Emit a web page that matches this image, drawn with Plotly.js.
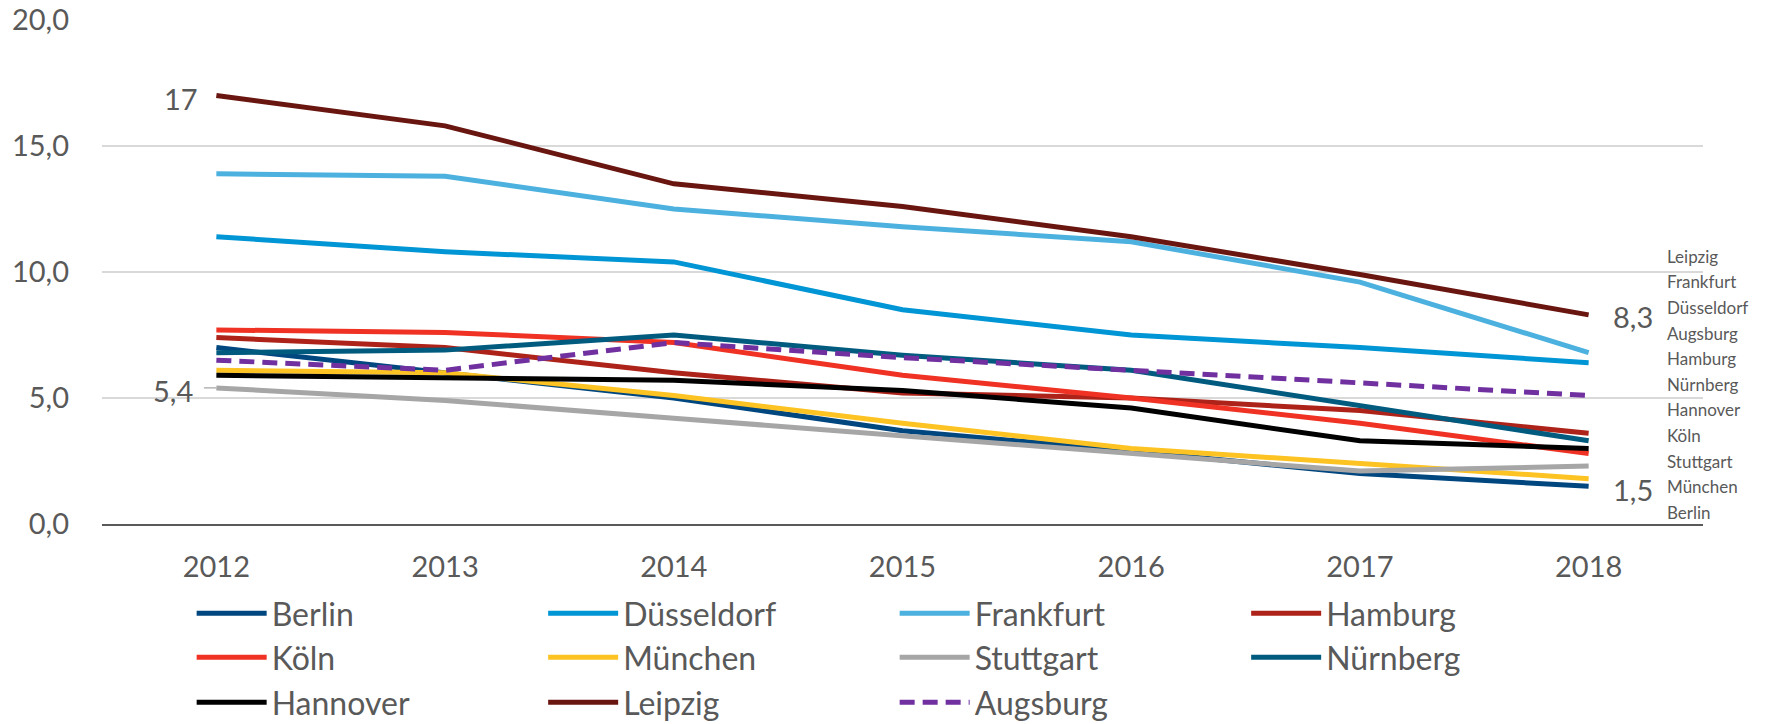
<!DOCTYPE html>
<html><head><meta charset="utf-8">
<script src="https://cdn.plot.ly/plotly-3.0.1.min.js"></script>
<style>html,body{margin:0;padding:0;background:#fff}</style>
</head><body><div id="chart" style="width:1775px;height:724px"></div>
<script>
const years = ['2012','2013','2014','2015','2016','2017','2018'];
const cities = ['Berlin','Düsseldorf','Frankfurt','Hamburg','Köln','München','Stuttgart','Nürnberg','Hannover','Leipzig','Augsburg'];
const berlin     = [7.0, 6.0, 5.0, 3.7, 2.9, 2.0, 1.5];
const duesseldorf= [11.4,10.8,10.4, 8.5, 7.5, 7.0, 6.4];
const frankfurt  = [13.9,13.8,12.5,11.8,11.2, 9.6, 6.8];
const hamburg    = [7.4, 7.0, 6.0, 5.2, 5.0, 4.5, 3.6];
const koeln      = [7.7, 7.6, 7.2, 5.9, 5.0, 4.0, 2.8];
const muenchen   = [6.1, 6.0, 5.1, 4.0, 3.0, 2.4, 1.8];
const stuttgart  = [5.4, 4.9, 4.2, 3.5, 2.8, 2.1, 2.3];
const nuernberg  = [6.8, 6.9, 7.5, 6.7, 6.1, 4.7, 3.3];
const hannover   = [5.9, 5.8, 5.7, 5.3, 4.6, 3.3, 3.0];
const leipzig    = [17.0,15.8,13.5,12.6,11.4, 9.9, 8.3];
const augsburg   = [6.5, 6.1, 7.2, 6.6, 6.1, 5.6, 5.1];
const yTicks = [0, 5, 10, 15, 20];

const seriesValues = [berlin, duesseldorf, frankfurt, hamburg, koeln, muenchen, stuttgart, nuernberg, hannover, leipzig, augsburg];
const colors = ['#00467f','#0095d4','#4cb1de','#ae2319','#ef3223','#fdc323','#a6a6a6','#005b7f','#000000','#6a1610','#7030a0'];
const dashes = ['solid','solid','solid','solid','solid','solid','solid','solid','solid','solid','15px,8px'];
const legendOf = i => i < 4 ? 'legend' : (i < 8 ? 'legend2' : 'legend3');

const FONT = 'Lato, "Open Sans", sans-serif';
const TXT = '#595959';

const traces = cities.map((c, i) => ({
  type: 'scatter', mode: 'lines', name: c, x: years, y: seriesValues[i],
  line: {color: colors[i], width: 5, dash: dashes[i]},
  legend: legendOf(i), hoverinfo: 'skip'
}));

const fmt = v => Number.isInteger(v) ? String(v) : v.toFixed(1).replace('.', ',');
const first = 0, last = years.length - 1;
const annotations = [];
// data labels (category axis: positions given by category index)
annotations.push({x: first, y: leipzig[first], text: fmt(leipzig[first]), showarrow: false, xanchor: 'right', xshift: -16, yshift: -3,
  font: {family: FONT, size: 29, color: TXT}});
annotations.push({x: first, y: stuttgart[first], text: '', showarrow: true, arrowhead: 0, arrowwidth: 1.2, arrowcolor: '#a6a6a6',
  ax: -14, ay: 0, standoff: 0});
annotations.push({x: first, y: stuttgart[first], text: fmt(stuttgart[first]), showarrow: false, xanchor: 'right', xshift: -21, yshift: -3,
  font: {family: FONT, size: 29, color: TXT}});
annotations.push({x: last, y: leipzig[last], text: fmt(leipzig[last]), showarrow: false, xanchor: 'left', xshift: 22, yshift: -2,
  font: {family: FONT, size: 29, color: TXT}});
annotations.push({x: last, y: berlin[last], text: fmt(berlin[last]), showarrow: false, xanchor: 'left', xshift: 22, yshift: -3,
  font: {family: FONT, size: 29, color: TXT}});
// right-hand name list, ordered by final value
const order = cities.map((c, i) => i).sort((a, b) => seriesValues[b][last] - seriesValues[a][last]);
order.forEach((idx, k) => {
  annotations.push({xref: 'paper', yref: 'paper', x: 0.976, y: 0.531 - k * 0.0508, xanchor: 'left', yanchor: 'middle',
    text: cities[idx], showarrow: false, font: {family: FONT, size: 17, color: TXT}});
});

const legendBase = {orientation: 'h', xref: 'paper', yref: 'paper', x: 0.056, xanchor: 'left', yanchor: 'middle',
  entrywidth: 266.5, entrywidthmode: 'pixels', itemwidth: 70, bgcolor: 'rgba(0,0,0,0)', traceorder: 'normal',
  font: {family: FONT, size: 32, color: TXT}, itemclick: false, itemdoubleclick: false};

const layout = {
  width: 1775, height: 724,
  margin: {l: 102, r: 72, t: 20, b: 200, autoexpand: false},
  paper_bgcolor: '#ffffff', plot_bgcolor: '#ffffff',
  separators: ',.',
  font: {family: FONT, color: TXT},
  xaxis: {type: 'category', range: [-0.5, 6.5], showgrid: false, showline: true, linecolor: '#595959', linewidth: 1.5,
    ticks: '', ticklabelstandoff: 17, tickfont: {family: FONT, size: 29, color: TXT}, fixedrange: true},
  yaxis: {range: [0, 20], tickvals: yTicks, tickformat: '.1f', showgrid: true, gridcolor: '#d9d9d9', gridwidth: 1.5,
    zeroline: false, showline: false, ticks: '', ticklabelstandoff: 32, tickfont: {family: FONT, size: 29, color: TXT}, fixedrange: true},
  legend:  Object.assign({}, legendBase, {y: -0.1774}),
  legend2: Object.assign({}, legendBase, {y: -0.2650}),
  legend3: Object.assign({}, legendBase, {y: -0.3540}),
  annotations: annotations,
  showlegend: true
};

Plotly.newPlot('chart', traces, layout, {staticPlot: true, displayModeBar: false});
</script>
</body></html>
